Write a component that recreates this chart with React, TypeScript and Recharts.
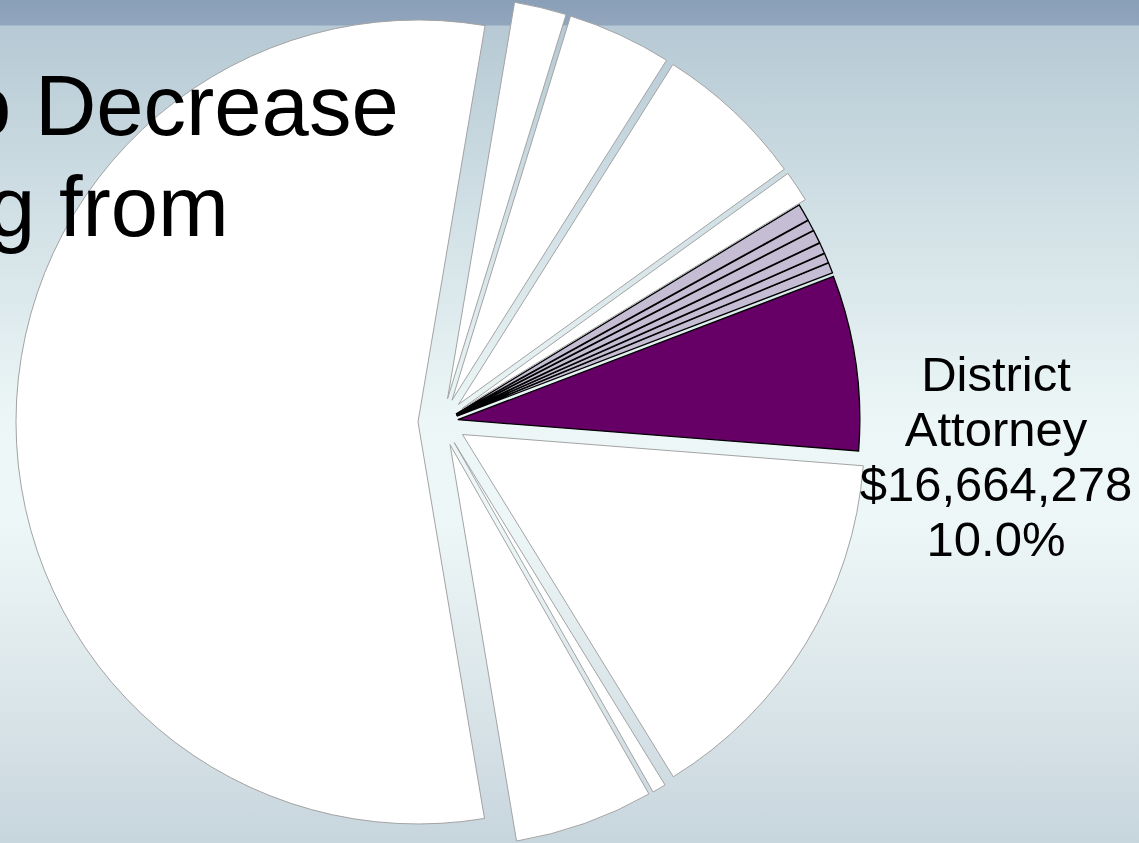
import { PieChart, Pie, Cell, Sector } from "recharts";

// slices listed counter-clockwise, starting at the upper edge of the large left slice
const names = [
  "Largest",
  "Lower 1",
  "Lower 2",
  "Lower right",
  "District Attorney",
  "Small 6",
  "Small 5",
  "Small 4",
  "Small 3",
  "Small 2",
  "Small 1",
  "Upper 4",
  "Upper 3",
  "Upper 2",
  "Upper 1",
];
// share of the whole (%)
const shares = [55.4, 5.6, 0.55, 15.0, 7.05, 0.42, 0.39, 0.44, 0.53, 0.44, 0.69, 1.25, 6.1, 4.2, 2.1];
// which group each slice belongs to (controls colour)
const groups = ["w", "w", "w", "w", "p", "l", "l", "l", "l", "l", "l", "w", "w", "w", "w"];

const labelLines = ["District", "Attorney", "$16,664,278", "10.0%"];
const titleLines = ["o Decrease", "g from"];

const data = names.map((name, i) => ({ name, value: shares[i], group: groups[i] }));

const FILL: Record<string, string> = { w: "#ffffff", l: "#c4bdd3", p: "#660066" };
const STROKE: Record<string, string> = { w: "#a3a3a3", l: "#000000", p: "#000000" };
const EXPLODE: Record<string, number> = { w: 24, l: 16, p: 16 };

const CX = 442;
const CY = 422;
const R = 402;

function ExplodedSlice(props: any) {
  const { cx, cy, innerRadius, outerRadius, startAngle, endAngle, midAngle, payload } = props;
  const g = payload?.group ?? "w";
  const e = EXPLODE[g];
  const rad = (midAngle * Math.PI) / 180;
  return (
    <Sector
      cx={cx + e * Math.cos(rad)}
      cy={cy - e * Math.sin(rad)}
      innerRadius={innerRadius}
      outerRadius={outerRadius}
      startAngle={startAngle}
      endAngle={endAngle}
      fill={FILL[g]}
      stroke={STROKE[g]}
      strokeWidth={g === "w" ? 1 : 1.3}
      strokeLinejoin="miter"
    />
  );
}

const font = '"Liberation Sans", Arial, sans-serif';

export default function App() {
  return (
    <div
      style={{
        position: "fixed",
        left: 0,
        top: 0,
        width: 1139,
        height: 843,
        overflow: "hidden",
        background:
          "linear-gradient(180deg, #8a9fb8 0px, #91a6bd 25px, #b6c9d4 26px, #d2e1e6 220px, #ecf6f6 420px, #eef7f7 520px, #dae5e9 700px, #c7d5dd 843px)",
      }}
    >
      <PieChart width={1139} height={843} margin={{ top: 0, right: 0, bottom: 0, left: 0 }}>
        <Pie
          data={data}
          dataKey="value"
          nameKey="name"
          cx={CX}
          cy={CY}
          outerRadius={R}
          startAngle={80.4}
          endAngle={440.4}
          shape={ExplodedSlice}
          isAnimationActive={false}
        >
          {data.map((d) => (
            <Cell key={d.name} fill={FILL[d.group]} stroke={STROKE[d.group]} />
          ))}
        </Pie>
      </PieChart>
      <div
        style={{
          position: "absolute",
          left: -36,
          top: 55,
          fontFamily: font,
          fontSize: 85,
          lineHeight: "101px",
          whiteSpace: "pre",
          color: "#000",
        }}
      >
        {titleLines[0]}
      </div>
      <div
        style={{
          position: "absolute",
          left: -12,
          top: 156,
          fontFamily: font,
          fontSize: 85,
          lineHeight: "101px",
          whiteSpace: "pre",
          color: "#000",
        }}
      >
        {titleLines[1]}
      </div>
      <div
        style={{
          position: "absolute",
          left: 836,
          top: 347,
          width: 320,
          textAlign: "center",
          fontFamily: font,
          fontSize: 49,
          lineHeight: "55px",
          color: "#000",
        }}
      >
        {labelLines.map((t) => (
          <div key={t}>{t}</div>
        ))}
      </div>
    </div>
  );
}
